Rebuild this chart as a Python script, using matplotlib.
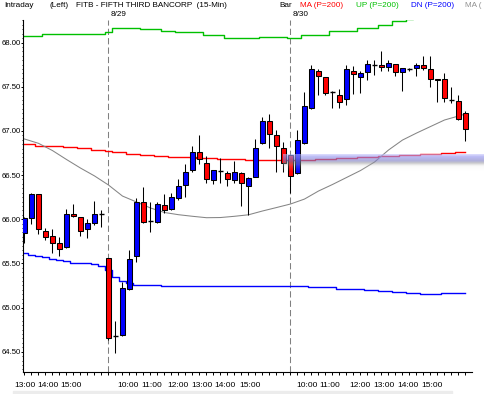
import numpy as np
import matplotlib.pyplot as plt
from matplotlib.ticker import FixedLocator, MultipleLocator, FormatStrFormatter
from matplotlib.patches import Rectangle

# 15-min candles, 3 sessions (last 12 bars of 8/28, then 8/29, 8/30)
opens = [65.84, 66.01, 66.29, 65.87, 65.81, 65.73, 65.69, 66.06, 66.02, 65.89, 65.96, 66.06,
         65.56, 64.68, 64.69, 65.21, 65.58, 66.19, 65.98, 65.97, 66.16, 66.12, 66.24, 66.39,
         66.56, 66.76, 66.64, 66.44, 66.55, 66.52, 66.44, 66.52, 66.38, 66.48, 66.86, 67.11,
         66.95, 66.81, 66.73, 66.52, 66.86, 67.26, 67.68, 67.61, 67.44, 67.41, 67.36, 67.68,
         67.61, 67.67, 67.75, 67.75, 67.72, 67.76, 67.67, 67.70, 67.71, 67.745, 67.70, 67.59,
         67.59, 67.35, 67.34, 67.20]
highs = [66.02, 66.30, 66.29, 65.90, 65.89, 65.80, 66.12, 66.17, 66.02, 66.00, 66.21, 66.10,
         65.56, 64.85, 65.29, 65.65, 66.24, 66.36, 66.20, 66.19, 66.29, 66.30, 66.45, 66.63,
         66.83, 66.95, 66.72, 66.56, 66.69, 66.55, 66.66, 66.54, 66.48, 66.91, 67.16, 67.19,
         67.01, 66.87, 66.74, 67.01, 67.44, 67.75, 67.70, 67.61, 67.45, 67.47, 67.75, 67.73,
         67.68, 67.80, 67.80, 67.90, 67.80, 67.76, 67.71, 67.71, 67.77, 67.85, 67.85, 67.59,
         67.65, 67.50, 67.41, 67.23]
lows = [65.73, 65.95, 65.83, 65.77, 65.62, 65.58, 65.67, 66.02, 65.81, 65.79, 65.94, 65.91,
        64.63, 64.49, 64.68, 65.20, 65.51, 65.96, 65.86, 65.96, 66.07, 66.10, 66.22, 66.25,
        66.54, 66.63, 66.41, 66.40, 66.41, 66.38, 66.41, 66.15, 66.05, 66.48, 66.85, 66.81,
        66.54, 66.54, 66.30, 66.51, 66.85, 67.25, 67.41, 67.41, 67.26, 67.26, 67.29, 67.42,
        67.43, 67.58, 67.63, 67.68, 67.68, 67.62, 67.45, 67.68, 67.62, 67.69, 67.50, 67.33,
        67.33, 67.31, 67.12, 66.88]
closes = [66.01, 66.29, 65.89, 65.80, 65.73, 65.66, 66.06, 66.04, 65.87, 65.96, 66.06, 66.06,
          64.65, 64.68, 65.22, 65.55, 66.19, 65.97, 65.98, 66.17, 66.10, 66.25, 66.38, 66.53,
          66.76, 66.68, 66.46, 66.56, 66.55, 66.46, 66.53, 66.41, 66.47, 66.81, 67.11, 66.97,
          66.83, 66.64, 66.49, 66.90, 67.28, 67.70, 67.62, 67.43, 67.44, 67.33, 67.70, 67.64,
          67.66, 67.76, 67.75, 67.72, 67.77, 67.67, 67.71, 67.70, 67.75, 67.71, 67.59, 67.58,
          67.37, 67.35, 67.13, 67.02]

ma_red = [66.848, 66.848, 66.832, 66.832, 66.825, 66.825, 66.814, 66.814, 66.802, 66.802,
          66.787, 66.787, 66.772, 66.757, 66.757, 66.738, 66.738, 66.723, 66.723, 66.712,
          66.712, 66.700, 66.700, 66.700, 66.700, 66.689, 66.689, 66.689, 66.676, 66.676,
          66.676, 66.676, 66.670, 66.670, 66.670, 66.670, 66.670, 66.670, 66.670, 66.670,
          66.670, 66.670, 66.681, 66.681, 66.681, 66.696, 66.696, 66.696, 66.707, 66.707,
          66.707, 66.719, 66.719, 66.719, 66.727, 66.727, 66.727, 66.738, 66.738, 66.738,
          66.753, 66.753, 66.764, 66.764]
band_up = [68.074, 68.074, 68.074, 68.093, 68.093, 68.093, 68.093, 68.093, 68.093, 68.093,
           68.093, 68.093, 68.115, 68.160, 68.160, 68.160, 68.160, 68.153, 68.153, 68.153,
           68.130, 68.130, 68.115, 68.115, 68.115, 68.115, 68.085, 68.085, 68.085, 68.048,
           68.048, 68.048, 68.048, 68.048, 68.059, 68.059, 68.059, 68.059, 68.051, 68.051,
           68.085, 68.085, 68.085, 68.085, 68.130, 68.130, 68.130, 68.130, 68.164, 68.164,
           68.164, 68.198, 68.198, 68.243, 68.243, 68.27, 68.29, 68.31, 68.33, 68.35,
           68.37, 68.39, 68.41, 68.43]
band_dn = [65.614, 65.595, 65.583, 65.568, 65.555, 65.538, 65.523, 65.507, 65.507, 65.507,
           65.493, 65.470, 65.425, 65.346, 65.300, 65.274, 65.255, 65.255, 65.255, 65.255,
           65.244, 65.244, 65.244, 65.244, 65.244, 65.244, 65.244, 65.244, 65.244, 65.244,
           65.244, 65.244, 65.244, 65.244, 65.244, 65.244, 65.244, 65.244, 65.244, 65.244,
           65.244, 65.229, 65.229, 65.229, 65.229, 65.213, 65.213, 65.206, 65.206, 65.195,
           65.195, 65.184, 65.184, 65.172, 65.172, 65.161, 65.161, 65.153, 65.153, 65.153,
           65.161, 65.161, 65.161, 65.161]
ma_gray_bars = [0, 2, 4, 6, 8, 10, 12, 14, 16, 18, 20, 22, 24, 26, 28, 30, 32, 34, 36, 38,
                40, 42, 44, 46, 48, 50, 52, 54, 56, 58, 60, 62, 63]
ma_gray = [66.908, 66.859, 66.777, 66.676, 66.579, 66.490, 66.387, 66.262, 66.195, 66.127,
           66.076, 66.051, 66.033, 66.017, 66.019, 66.033, 66.050, 66.093, 66.132, 66.172,
           66.228, 66.319, 66.393, 66.472, 66.551, 66.647, 66.783, 66.896, 66.975, 67.049,
           67.123, 67.168, 67.191]

session_starts = [12, 38]
session_labels = ["8/29", "8/30"]
hour_pos = [0.1, 3.4, 6.7, 14.8, 18.2, 21.9, 25.3, 28.6, 32.2, 40.3, 43.6, 47.9, 51.3, 54.8, 58.2]
hour_labels = ["13:00", "14:00", "15:00", "10:00", "11:00", "12:00", "13:00", "14:00", "15:00",
               "10:00", "11:00", "12:00", "13:00", "14:00", "15:00"]

W, H = 484, 394
FONT = ["Liberation Sans", "DejaVu Sans"]
plt.rcParams["font.family"] = FONT

fig = plt.figure(figsize=(W / 100, H / 100), dpi=100)
ax = fig.add_axes([23.3 / W, 21.7 / H, (472.5 - 23.3) / W, (372.3 - 20) / H])

x = np.arange(len(opens))
o = np.array(opens)
c = np.array(closes)

# indicator lines
ax.plot(x, band_up, color="#00c000", lw=1.0, drawstyle="steps-mid", zorder=1)
ax.plot(x, band_dn, color="#0000ff", lw=1.0, drawstyle="steps-mid", zorder=1)
ax.plot(x, ma_red, color="#ff0000", lw=1.0, drawstyle="steps-mid", zorder=1)
ax.plot(ma_gray_bars, ma_gray, color="#858585", lw=0.75, zorder=1)

for s in session_starts:
    ax.axvline(s, color="#808080", lw=0.75, dashes=(6, 3), zorder=0.5)

# candles
ax.vlines(x, lows, highs, color="black", lw=0.75, zorder=2)
body_w = 0.65
for i in range(len(x)):
    if abs(c[i] - o[i]) < 0.005:
        ax.hlines(o[i], i - body_w / 2, i + body_w / 2, color="black", lw=1.0, zorder=3)
    else:
        col = "#0000ff" if c[i] > o[i] else "#ff0000"
        ax.bar(i, abs(c[i] - o[i]), body_w, bottom=min(o[i], c[i]), color=col,
               edgecolor="black", linewidth=0.75, zorder=3)

ax.set_xlim(-0.17, 64.0)
ax.set_ylim(64.267, 68.255)

for side in ["top", "right"]:
    ax.spines[side].set_visible(False)
for side in ["left", "bottom"]:
    ax.spines[side].set_linewidth(0.8)

ax.xaxis.set_major_locator(FixedLocator(hour_pos))
ax.set_xticklabels(hour_labels)
ax.xaxis.set_minor_locator(FixedLocator(list(range(len(x)))))
ax.tick_params(axis="x", which="major", length=0, pad=7, labelsize=6.0)
ax.tick_params(axis="x", which="minor", length=2.5, width=0.7, direction="out")

ax.yaxis.set_major_locator(MultipleLocator(0.5))
ax.yaxis.set_major_formatter(FormatStrFormatter("%.2f"))
ax.yaxis.set_minor_locator(MultipleLocator(0.05))
ax.tick_params(axis="y", which="major", length=1.6, width=0.7, pad=0.3, labelsize=5.6)
ax.tick_params(axis="y", which="minor", length=1.0, width=0.6)

# header
def ftext(px, py, s, color="black", ha="left"):
    fig.text(px / W, 1 - py / H, s, color=color, fontsize=5.9, ha=ha, va="center")

ftext(4, 5.5, "Intraday")
ftext(49, 5.5, "(Left)")
ftext(76, 5.5, "FITB - FIFTH THIRD BANCORP  (15-Min)")
ftext(279, 5.5, "Bar")
ftext(300, 5.5, "MA (P=200)", color="#ff0000")
ftext(356, 5.5, "UP (P=200)", color="#00c000")
ftext(411, 5.5, "DN (P=200)", color="#0000ff")
ftext(465, 5.5, "MA (", color="#909090")
for s, lab in zip(session_starts, session_labels):
    xp = ax.transData.transform((s, 0))[0] / fig.dpi * 100
    ftext(xp + 2, 15, lab)

# selection highlight band
stops_y = [0, 3, 7, 9, 12, 17]
stops_r = [205, 150, 125, 145, 220, 250]
stops_g = [205, 150, 125, 145, 220, 250]
stops_b = [255, 240, 195, 150, 220, 250]
stops_a = [0.55, 0.65, 0.62, 0.5, 0.18, 0.0]
rows = np.arange(18)
grad = np.zeros((18, 1, 4))
grad[:, 0, 0] = np.interp(rows, stops_y, stops_r) / 255
grad[:, 0, 1] = np.interp(rows, stops_y, stops_g) / 255
grad[:, 0, 2] = np.interp(rows, stops_y, stops_b) / 255
grad[:, 0, 3] = np.interp(rows, stops_y, stops_a)
bax = fig.add_axes([283 / W, 1 - 172 / H, (W - 283) / W, 18 / H], zorder=5)
bax.imshow(grad, aspect="auto", interpolation="bilinear")
bax.axis("off")

# bottom scrollbar strip
fig.patches.append(Rectangle((13 / W, 0), (452 - 13) / W, 3.5 / H, transform=fig.transFigure,
                             color="#ececec", zorder=0))

fig.savefig("out.png", dpi=100)
